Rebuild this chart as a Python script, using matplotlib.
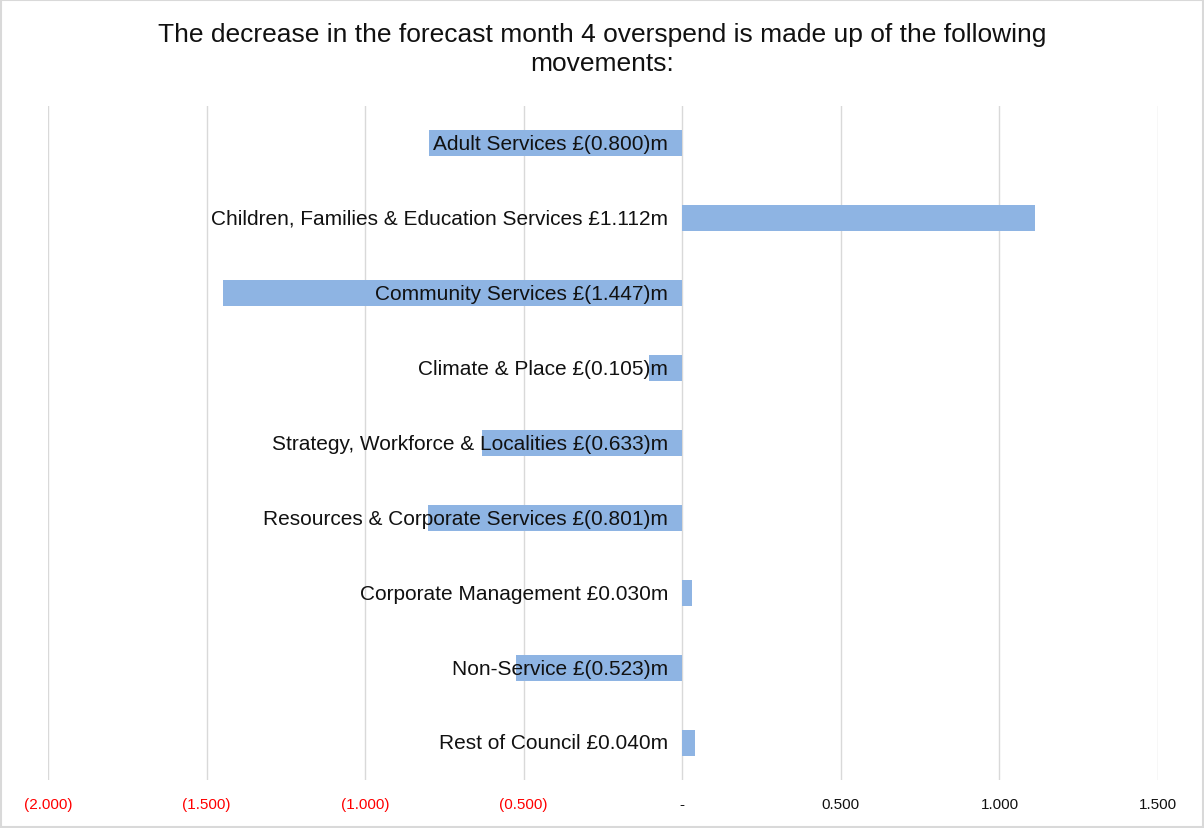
import matplotlib.pyplot as plt
from matplotlib.ticker import FuncFormatter

categories = [
    "Adult Services",
    "Children, Families & Education Services",
    "Community Services",
    "Climate & Place",
    "Strategy, Workforce & Localities",
    "Resources & Corporate Services",
    "Corporate Management",
    "Non-Service",
    "Rest of Council",
]
movements = [-0.800, 1.112, -1.447, -0.105, -0.633, -0.801, 0.030, -0.523, 0.040]
xticks = [-2.0, -1.5, -1.0, -0.5, 0.0, 0.5, 1.0, 1.5]


def money(v):
    if v < 0:
        return f"£({abs(v):.3f})m"
    return f"£{v:.3f}m"


def tick_fmt(v, pos):
    if abs(v) < 1e-9:
        return "-"
    if v < 0:
        return f"({abs(v):.3f})"
    return f"{v:.3f}"


plt.rcParams['font.family'] = ['Liberation Sans', 'DejaVu Sans']

fig = plt.figure(figsize=(12.04, 8.29), dpi=100)
ax = fig.add_axes([0.0399, 0.0573, 0.9219, 0.8142])

ypos = list(range(len(categories)))
ax.barh(ypos, movements, height=0.35, color='#8EB4E3', zorder=2)

for y, name, v in zip(ypos, categories, movements):
    ax.text(-0.045, y, f"{name} {money(v)}", ha='right', va='center',
            fontsize=15, color='#111111', zorder=3)

ax.set_ylim(len(categories) - 0.5, -0.5)
ax.set_xlim(-2.0, 1.5)
ax.set_xticks(xticks)
ax.xaxis.set_major_formatter(FuncFormatter(tick_fmt))
ax.set_yticks([])
ax.grid(axis='x', color='#D9D9D9', linewidth=1, zorder=0)
ax.tick_params(axis='x', length=0, pad=12, labelsize=11)
for lbl, v in zip(ax.get_xticklabels(), xticks):
    lbl.set_color('#FF0000' if v < 0 else '#111111')
for s in ax.spines.values():
    s.set_visible(False)

fig.text(0.5, 0.972, "The decrease in the forecast month 4 overspend is made up of the following\nmovements:",
         ha='center', va='top', fontsize=19, color='#111111', linespacing=1.25)

border = plt.Rectangle((0.001, 0.001), 0.998, 0.998, transform=fig.transFigure,
                       fill=False, edgecolor='#D9D9D9', linewidth=1.5)
fig.patches.append(border)

fig.savefig("out.png", dpi=100)
